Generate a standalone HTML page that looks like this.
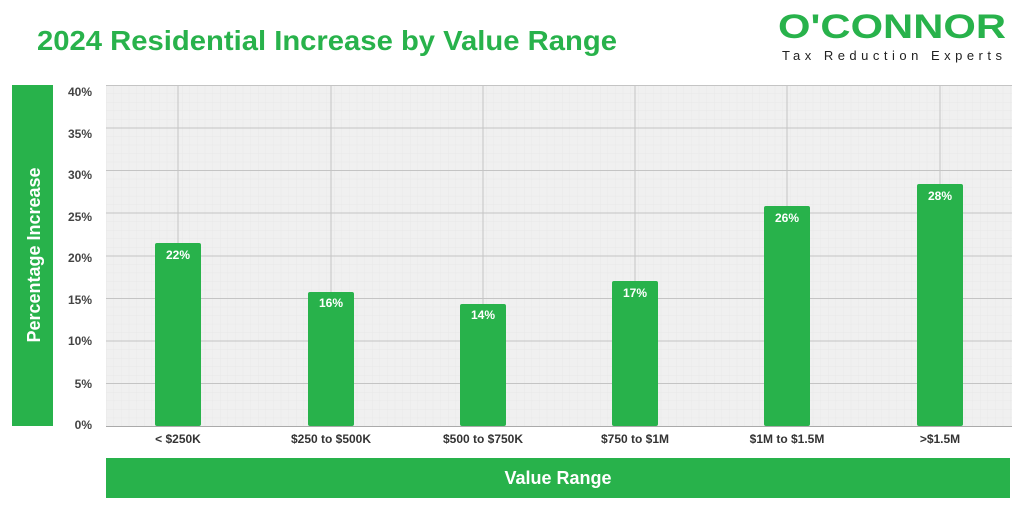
<!DOCTYPE html>
<html><head><meta charset="utf-8"><style>body{margin:0;background:#fff}svg{display:block}</style></head><body>
<svg width="1024" height="512" viewBox="0 0 1024 512" xmlns="http://www.w3.org/2000/svg" font-family="Liberation Sans, sans-serif">
<defs>
<pattern id="minor" width="7.6" height="8.53" patternUnits="userSpaceOnUse" x="106" y="85">
<rect width="7.6" height="8.53" fill="#f0f0f0"/>
<path d="M0 0H7.6M0 0V8.53" stroke="#e6e6e6" stroke-width="0.6"/>
</pattern>
</defs>
<text x="37" y="50" font-size="28" font-weight="bold" fill="#28b24b" textLength="580" lengthAdjust="spacingAndGlyphs">2024 Residential Increase by Value Range</text>
<text x="778" y="38" font-size="34" font-weight="bold" fill="#28b24b" textLength="228" lengthAdjust="spacingAndGlyphs">O'CONNOR</text>
<text x="782" y="60" font-size="13" fill="#222" textLength="220" lengthAdjust="spacing">Tax Reduction Experts</text>
<rect x="12" y="85" width="41" height="341" fill="#28b24b"/>
<text transform="translate(40,255) rotate(-90)" text-anchor="middle" font-size="18" font-weight="bold" fill="#fff">Percentage Increase</text>
<rect x="106" y="85" width="906" height="341" fill="url(#minor)"/>
<g stroke="#c4c4c4" stroke-width="1">
<line x1="106" x2="1012" y1="85.5" y2="85.5"/><line x1="106" x2="1012" y1="128" y2="128"/>
<line x1="106" x2="1012" y1="170.5" y2="170.5"/><line x1="106" x2="1012" y1="213" y2="213"/>
<line x1="106" x2="1012" y1="256" y2="256"/><line x1="106" x2="1012" y1="298.5" y2="298.5"/>
<line x1="106" x2="1012" y1="341" y2="341"/><line x1="106" x2="1012" y1="383.5" y2="383.5"/>
<line x1="178" x2="178" y1="85" y2="426"/><line x1="331" x2="331" y1="85" y2="426"/>
<line x1="483" x2="483" y1="85" y2="426"/><line x1="635" x2="635" y1="85" y2="426"/>
<line x1="787" x2="787" y1="85" y2="426"/><line x1="940" x2="940" y1="85" y2="426"/>
</g>
<line x1="106" x2="1012" y1="426.5" y2="426.5" stroke="#aaa"/>
<g font-size="12" font-weight="bold" fill="#444" text-anchor="end">
<text x="92" y="96">40%</text><text x="92" y="138">35%</text><text x="92" y="179">30%</text>
<text x="92" y="221">25%</text><text x="92" y="262">20%</text><text x="92" y="304">15%</text>
<text x="92" y="345">10%</text><text x="92" y="388">5%</text><text x="92" y="429">0%</text>
</g>
<g fill="#28b24b">
<rect x="155" y="243" width="46" height="183" rx="2"/>
<rect x="308" y="292" width="46" height="134" rx="2"/>
<rect x="460" y="304" width="46" height="122" rx="2"/>
<rect x="612" y="281" width="46" height="145" rx="2"/>
<rect x="764" y="206" width="46" height="220" rx="2"/>
<rect x="917" y="184" width="46" height="242" rx="2"/>
</g>
<g font-size="12" font-weight="bold" fill="#fff" text-anchor="middle">
<text x="178" y="259">22%</text><text x="331" y="307">16%</text><text x="483" y="319">14%</text>
<text x="635" y="297">17%</text><text x="787" y="222">26%</text><text x="940" y="200">28%</text>
</g>
<g font-size="12" font-weight="bold" fill="#333" text-anchor="middle">
<text x="178" y="443">&lt; $250K</text><text x="331" y="443">$250 to $500K</text><text x="483" y="443">$500 to $750K</text>
<text x="635" y="443">$750 to $1M</text><text x="787" y="443">$1M to $1.5M</text><text x="940" y="443">&gt;$1.5M</text>
</g>
<rect x="106" y="458" width="904" height="40" fill="#28b24b"/>
<text x="558" y="484" text-anchor="middle" font-size="18" font-weight="bold" fill="#fff">Value Range</text>
</svg>
</body></html>
